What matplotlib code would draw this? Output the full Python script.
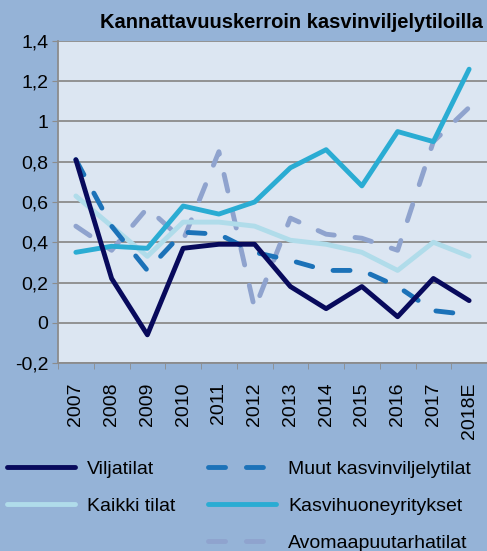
import numpy as np
import matplotlib.pyplot as plt
from matplotlib.lines import Line2D

plt.rcParams['font.family'] = ['Liberation Sans', 'DejaVu Sans']

# Data
years = ['2007', '2008', '2009', '2010', '2011', '2012', '2013', '2014',
         '2015', '2016', '2017', '2018E']
viljatilat = [0.81, 0.22, -0.06, 0.37, 0.39, 0.39, 0.18, 0.07, 0.18, 0.03, 0.22, 0.11]
muut = [0.81, 0.48, 0.26, 0.45, 0.44, 0.35, 0.31, 0.26, 0.26, 0.18, 0.06, 0.04]
kaikki = [0.63, 0.48, 0.33, 0.50, 0.50, 0.48, 0.41, 0.39, 0.35, 0.26, 0.40, 0.33]
kasvihuone = [0.35, 0.38, 0.37, 0.58, 0.54, 0.60, 0.77, 0.86, 0.68, 0.95, 0.90, 1.26]
avomaa = [0.48, 0.36, 0.57, 0.41, 0.85, 0.07, 0.52, 0.44, 0.42, 0.36, 0.90, 1.07]

yticks = [-0.2, 0, 0.2, 0.4, 0.6, 0.8, 1, 1.2, 1.4]
ylabels = ['-0,2', '0', '0,2', '0,4', '0,6', '0,8', '1', '1,2', '1,4']

fig = plt.figure(figsize=(4.87, 5.51), dpi=100)
fig.patch.set_facecolor('#95B3D7')
ax = fig.add_axes([58 / 487, 1 - 363 / 551, 1 - 58 / 487, (363 - 41) / 551])
ax.set_facecolor('#DCE6F2')

x = np.arange(len(years))
lw = 3.5
dash = (3.5, 4.3)
ax.plot(x, kaikki, color='#B0DCEA', lw=lw, solid_capstyle='round', zorder=3)
ax.plot(x, kasvihuone, color='#2AACD3', lw=lw, solid_capstyle='round', zorder=4)
ax.plot(x, avomaa, color='#8FA3CE', lw=lw, dashes=dash, dash_capstyle='round', zorder=2)
ax.plot(x, muut, color='#1C72B8', lw=lw, dashes=dash, dash_capstyle='round', zorder=5)
ax.plot(x, viljatilat, color='#080A5C', lw=lw, solid_capstyle='round', zorder=6)

ax.set_xlim(-0.5, len(years) - 0.5)
ax.set_ylim(-0.2, 1.4)
ax.set_yticks(yticks)
ax.set_yticklabels(ylabels, fontsize=14)
ax.yaxis.grid(True, color='#8C8C8C', lw=1.3)
ax.set_axisbelow(True)
ax.tick_params(axis='y', length=4, color='#8C8C8C', pad=3)

ax.set_xticks(x)
ax.set_xticklabels(years, rotation=90, fontsize=14)
ax.set_xticks(np.arange(len(years) + 1) - 0.5, minor=True)
ax.tick_params(axis='x', which='major', length=0, pad=14)
ax.tick_params(axis='x', which='minor', length=4, color='#8C8C8C')

for s in ['top', 'right']:
    ax.spines[s].set_visible(False)
for s in ['left', 'bottom']:
    ax.spines[s].set_color('#8C8C8C')
    ax.spines[s].set_linewidth(1.3)

fig.text(483 / 487, 1 - 22 / 551, 'Kannattavuuskerroin kasvinviljelytiloilla',
         ha='right', va='center', fontsize=14.5, fontweight='bold')

# Legend: first column 2 entries, second 3
h = [Line2D([], [], color='#080A5C', lw=lw, solid_capstyle='round'),
     Line2D([], [], color='#B0DCEA', lw=lw, solid_capstyle='round'),
     Line2D([], [], color='none'),
     Line2D([], [], color='#1C72B8', lw=lw, dashes=dash, dash_capstyle='round'),
     Line2D([], [], color='#2AACD3', lw=lw, solid_capstyle='round'),
     Line2D([], [], color='#8FA3CE', lw=lw, dashes=dash, dash_capstyle='round')]
labels = ['Viljatilat', 'Kaikki tilat', '', 'Muut kasvinviljelytilat',
          'Kasvihuoneyritykset', 'Avomaapuutarhatilat']
fig.legend(h, labels, ncol=2, loc='upper left', bbox_to_anchor=(7 / 487, 1 - 460 / 551),
           frameon=False, fontsize=14, handlelength=3.5, handletextpad=0.6,
           columnspacing=1.7, labelspacing=1.0, borderpad=0, borderaxespad=0)

fig.savefig('out.png', dpi=100, facecolor=fig.get_facecolor())
